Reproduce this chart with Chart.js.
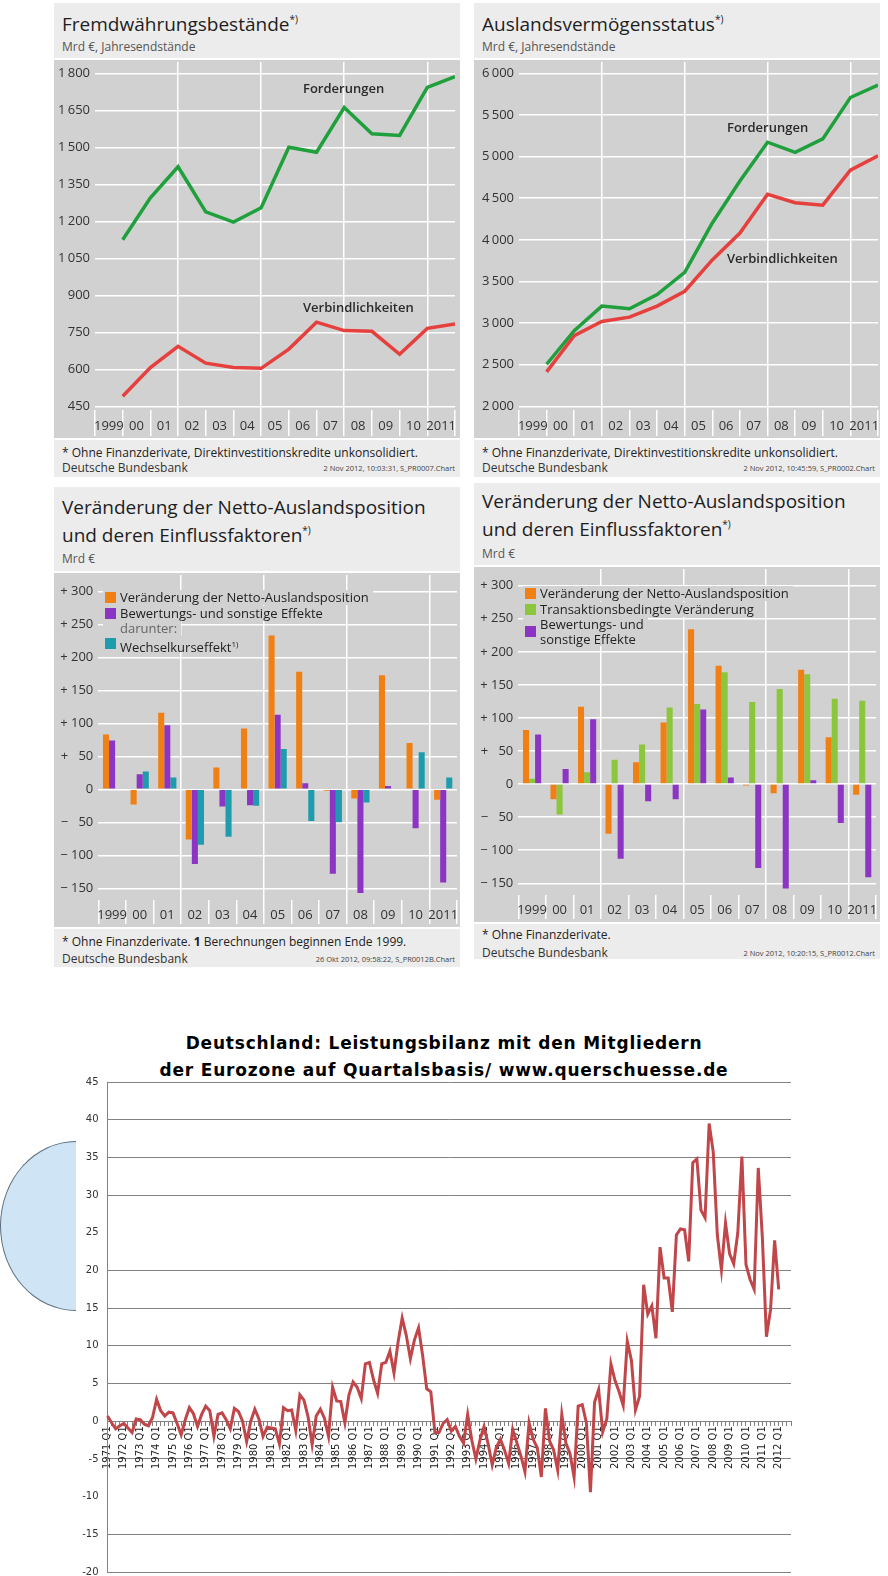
<!DOCTYPE html>
<html lang="de">
<head>
<meta charset="utf-8">
<title>Auslandsposition und Leistungsbilanz</title>
<script src="https://cdn.jsdelivr.net/npm/chart.js@4.4.0/dist/chart.umd.min.js"></script>
<style>
  body { margin: 0; width: 888px; height: 1576px; position: relative; background: #fff; overflow: hidden;
         font-family: 'Open Sans', 'Noto Sans', sans-serif; color: #222; }
  .abs { position: absolute; }
  .panel { position: absolute; background: #ececec; }
  .plot { position: absolute; background: #d1d1d1; border-top: 2px solid #fff; border-bottom: 2px solid #fff; box-sizing: border-box; }
  .title { position: absolute; font-size: 19px; line-height: 23px; color: #1e1e1e; white-space: nowrap; }
  .title sup { font-size: 10px; vertical-align: 8px; }
  .unit { position: absolute; font-size: 12px; line-height: 16px; color: #555; }
  .note { position: absolute; font-size: 12px; line-height: 16px; color: #222; white-space: nowrap; }
  .stamp { position: absolute; font-size: 7.5px; line-height: 10px; color: #444; white-space: nowrap; text-align: right; }
  .legend div { position: absolute; height: 15px; line-height: 15px; font-size: 13px; background: #d1d1d1; white-space: nowrap; padding-right: 4px; }
  .legend i { position: absolute; width: 11px; height: 11px; }
  .legend sup { font-size: 8px; vertical-align: 5px; }
  .curve { position: absolute; font-size: 13px; font-weight: 600; color: #2a2a2a; }
  canvas { position: absolute; }
  .headline { position: absolute; left: 0; width: 888px; text-align: center; font-family: 'DejaVu Sans', sans-serif;
              font-weight: bold; font-size: 17px; letter-spacing: 0.8px; line-height: 20px; color: #000; }
</style>
</head>
<body>

<!-- Panel 1 -->
<div class="panel" style="left:54px;top:3px;width:406px;height:474px"></div>
<div class="title" style="left:62px;top:8px">Fremdwährungsbestände<sup>*)</sup></div>
<div class="unit" style="left:62px;top:39px">Mrd €, Jahresendstände</div>
<div class="plot" style="left:54px;top:58px;width:406px;height:382px"></div>
<canvas id="fxChart" width="406" height="378" style="left:54px;top:60px"></canvas>
<div class="curve" style="left:303px;top:79px">Forderungen</div>
<div class="curve" style="left:303px;top:298px">Verbindlichkeiten</div>
<div class="note" style="left:62px;top:445px">* Ohne Finanzderivate, Direktinvestitionskredite unkonsolidiert.</div>
<div class="note" style="left:62px;top:460px;color:#333">Deutsche Bundesbank</div>
<div class="stamp" style="right:433px;top:463px">2 Nov 2012, 10:03:31, S_PR0007.Chart</div>

<!-- Panel 2 -->
<div class="panel" style="left:474px;top:3px;width:406px;height:474px"></div>
<div class="title" style="left:482px;top:8px">Auslandsvermögensstatus<sup>*)</sup></div>
<div class="unit" style="left:482px;top:39px">Mrd €, Jahresendstände</div>
<div class="plot" style="left:474px;top:58px;width:406px;height:382px"></div>
<canvas id="iipChart" width="406" height="378" style="left:474px;top:60px"></canvas>
<div class="curve" style="left:727px;top:118px">Forderungen</div>
<div class="curve" style="left:727px;top:249px">Verbindlichkeiten</div>
<div class="note" style="left:482px;top:445px">* Ohne Finanzderivate, Direktinvestitionskredite unkonsolidiert.</div>
<div class="note" style="left:482px;top:460px;color:#333">Deutsche Bundesbank</div>
<div class="stamp" style="right:13px;top:463px">2 Nov 2012, 10:45:59, S_PR0002.Chart</div>

<!-- Panel 3 -->
<div class="panel" style="left:54px;top:487px;width:406px;height:480px"></div>
<div class="title" style="left:62px;top:496px">Veränderung der Netto-Auslandsposition<br>und deren Einflussfaktoren<sup>*)</sup></div>
<div class="unit" style="left:62px;top:551px">Mrd €</div>
<div class="plot" style="left:54px;top:571px;width:406px;height:358px"></div>
<canvas id="netChartA" width="406" height="354" style="left:54px;top:573px"></canvas>
<div class="legend">
  <div style="left:103px;top:590px;padding-left:17px"><i style="left:2px;top:2px;background:#f07f14"></i>Veränderung der Netto-Auslandsposition</div>
  <div style="left:103px;top:606px;padding-left:17px"><i style="left:2px;top:2px;background:#8c35c4"></i>Bewertungs- und sonstige Effekte</div>
  <div style="left:103px;top:621px;padding-left:17px;color:#666">darunter:</div>
  <div style="left:103px;top:636px;padding-left:17px"><i style="left:2px;top:2px;background:#1c9cac"></i>Wechselkurseffekt<sup>1)</sup></div>
</div>
<div class="note" style="left:62px;top:934px">* Ohne Finanzderivate. <b>1</b> Berechnungen beginnen Ende 1999.</div>
<div class="note" style="left:62px;top:951px;color:#333">Deutsche Bundesbank</div>
<div class="stamp" style="right:433px;top:954px">26 Okt 2012, 09:58:22, S_PR0012B.Chart</div>

<!-- Panel 4 -->
<div class="panel" style="left:474px;top:483px;width:406px;height:476px"></div>
<div class="title" style="left:482px;top:490px">Veränderung der Netto-Auslandsposition<br>und deren Einflussfaktoren<sup>*)</sup></div>
<div class="unit" style="left:482px;top:546px">Mrd €</div>
<div class="plot" style="left:474px;top:565px;width:406px;height:359px"></div>
<canvas id="netChartB" width="406" height="355" style="left:474px;top:567px"></canvas>
<div class="legend">
  <div style="left:523px;top:586px;padding-left:17px"><i style="left:2px;top:2px;background:#f07f14"></i>Veränderung der Netto-Auslandsposition</div>
  <div style="left:523px;top:602px;padding-left:17px"><i style="left:2px;top:2px;background:#8cc63c"></i>Transaktionsbedingte Veränderung</div>
  <div style="left:523px;top:617px;height:29px;padding-left:17px"><i style="left:2px;top:9px;background:#8c35c4"></i>Bewertungs- und<br>sonstige Effekte</div>
</div>
<div class="note" style="left:482px;top:927px">* Ohne Finanzderivate.</div>
<div class="note" style="left:482px;top:945px;color:#333">Deutsche Bundesbank</div>
<div class="stamp" style="right:13px;top:948px">2 Nov 2012, 10:20:15, S_PR0012.Chart</div>

<!-- Quarterly chart -->
<div class="headline" style="top:1033px">Deutschland: Leistungsbilanz mit den Mitgliedern</div>
<div class="headline" style="top:1060px">der Eurozone auf Quartalsbasis/ www.querschuesse.de</div>
<div class="abs" style="left:0;top:1141px;width:76px;height:170px;background:#cfe4f4;border:1px solid #5d6e7c;border-right:none;border-radius:76px 0 0 76px / 85px 0 0 85px;box-sizing:border-box"></div>
<canvas id="balanceChart" width="888" height="501" style="left:0;top:1075px"></canvas>

<script>
const years = ['1999', '00', '01', '02', '03', '04', '05', '06', '07', '08', '09', '10', '2011'];

// Fremdwährungsbestände, Mrd €, Jahresendstände
const fxClaims = [1125, 1295, 1421, 1238, 1197, 1255, 1500, 1480, 1661, 1555, 1548, 1743, 1786];
const fxLiabilities = [491, 607, 693, 625, 607, 604, 682, 791, 757, 754, 661, 766, 784];
const fxTicks = [450, 600, 750, 900, 1050, 1200, 1350, 1500, 1650, 1800];

// Auslandsvermögensstatus, Mrd €
const iipClaims = [2505, 2909, 3204, 3172, 3342, 3608, 4202, 4707, 5172, 5051, 5212, 5709, 5859];
const iipLiabilities = [2413, 2849, 3018, 3071, 3204, 3382, 3758, 4081, 4546, 4445, 4416, 4836, 5010];
const iipTicks = [2000, 2500, 3000, 3500, 4000, 4500, 5000, 5500, 6000];

// Veränderung der Netto-Auslandsposition, Mrd €
const netChangeA = [83, -23, 116, -76, 33, 92, 233, 178, -2, -14, 173, 70, -16];
const valuationA = [74, 23, 97, -113, -26, -24, 113, 9, -128, -157, 5, -59, -141];
const exchangeRateEffect = [null, 27, 18, -84, -72, -25, 61, -48, -50, -20, -1, 56, 18];
const netChangeB = [82, -23, 117, -75, 33, 93, 234, 179, -2, -14, 173, 71, -16];
const transactions = [8, -46, 18, 37, 60, 116, 121, 169, 124, 144, 166, 129, 126];
const valuationB = [75, 23, 98, -113, -26, -23, 113, 10, -127, -158, 6, -59, -141];
const barTicks = [-150, -100, -50, 0, 50, 100, 150, 200, 250, 300];

// Leistungsbilanz mit der Eurozone, 1971 Q1 - 2012 Q1
const balance = [
  0.7, -0.2, -1.0, -0.6, -0.3, -0.9, -1.5, 0.3, 0.2, -0.4, -0.6, 0.5,
  2.9, 1.4, 0.7, 1.2, 1.1, -0.3, -1.8, 0.2, 1.8, 1.0, -0.7, 0.9,
  2.0, 1.4, -2.0, 0.9, 1.1, 0.2, -1.0, 1.7, 1.3, 0.0, -2.7, 0.0,
  1.6, 0.3, -2.0, -0.8, -0.9, -1.0, -3.0, 1.8, 1.4, 1.5, -1.2, 3.5,
  2.8, 0.6, -3.1, 0.7, 1.6, 0.4, -2.0, 4.5, 2.7, 2.6, -0.2, 3.5,
  5.2, 4.5, 3.0, 7.6, 7.8, 5.5, 3.7, 7.6, 7.8, 9.3, 6.4, 10.5,
  13.7, 11.4, 8.3, 10.8, 12.4, 8.7, 4.3, 3.9, -1.5, -1.5, -0.3, 0.2,
  -1.3, -0.7, -2.0, -2.9, 0.9, -2.5, -5.0, -2.5, -0.7, -3.0, -5.8, -3.5,
  -2.4, -3.8, -5.6, -1.1, -2.8, -4.6, -6.7, -0.2, -2.4, -3.5, -7.4, 1.7,
  -2.6, -3.8, -6.5, 0.9, -2.9, -4.3, -7.4, 2.0, 2.2, -0.2, -9.4, 2.5,
  4.2, -1.4, 0.3, 7.6, 5.4, 3.9, 2.1, 10.6, 8.1, 1.5, 3.3, 18.1,
  14.2, 15.3, 11.0, 23.1, 19.0, 19.0, 14.5, 24.7, 25.5, 25.4, 21.2, 34.3,
  34.8, 28.0, 27.0, 39.5, 35.7, 24.7, 20.1, 26.3, 22.2, 20.9, 25.0, 35.1,
  20.8, 18.8, 17.5, 33.6, 24.4, 11.2, 14.8, 24.0, 17.5
];
const firstYear = 1971;
const lastYear = 2012;

const quarterLabels = [];
for (let y = firstYear; y <= lastYear; y++) {
  for (let q = 1; q <= 4; q++) quarterLabels.push(`${y} Q${q}`);
}

const boundaryLines = [3, 6, 9, 12];
const gridWhite = '#ffffff';
const none = 'rgba(0,0,0,0)';
const tickFont = { family: "'Open Sans', sans-serif", size: 13 };

function thousands(v) {
  return v >= 1000 ? `${Math.floor(v / 1000)}\u2009${String(v % 1000).padStart(3, '0')}` : String(v);
}

function signed(v) {
  if (v === 0) return '0';
  const abs = Math.abs(v);
  return `${v > 0 ? '+' : '\u2212'}${abs < 100 ? '   ' : ' '}${abs}`;
}

// fixed axis sizes, without the extra room Chart.js keeps for end labels
function fixWidth(width) {
  return scale => { scale.width = width; scale.paddingTop = 0; scale.paddingBottom = 0; };
}
function fixHeight(height) {
  return scale => { scale.height = height; scale.paddingLeft = 0; scale.paddingRight = 0; };
}

function yearLineChart(id, claims, liabilities, ticks, range, yWidth, padRight) {
  return new Chart(document.getElementById(id), {
    type: 'line',
    data: {
      datasets: [
        { label: 'Forderungen', data: claims.map((v, i) => ({ x: i + 1, y: v })),
          borderColor: '#1fa03c', borderWidth: 3.5, pointRadius: 0, tension: 0 },
        { label: 'Verbindlichkeiten', data: liabilities.map((v, i) => ({ x: i + 1, y: v })),
          borderColor: '#e5403d', borderWidth: 3.5, pointRadius: 0, tension: 0 }
      ]
    },
    options: {
      responsive: false,
      animation: false,
      layout: { padding: { top: 2, right: padRight, left: 0, bottom: 0 } },
      plugins: { legend: { display: false }, tooltip: { enabled: false } },
      scales: {
        x: {
          type: 'linear', min: 0, max: years.length,
          afterBuildTicks: scale => { scale.ticks = Array.from({ length: years.length * 2 + 1 }, (_, i) => ({ value: i / 2 })); },
          afterFit: fixHeight(28),
          border: { display: false },
          grid: {
            color: c => (c.tick && boundaryLines.includes(c.tick.value)) ? gridWhite : none,
            tickColor: c => (c.tick && Number.isInteger(c.tick.value)) ? gridWhite : none,
            lineWidth: 1.5, tickWidth: 1.5, tickLength: 26
          },
          ticks: {
            autoSkip: false, maxRotation: 0, padding: -18, color: '#333', font: tickFont,
            callback: value => (value % 1 === 0.5 ? years[Math.floor(value)] : '')
          }
        },
        y: {
          min: range[0], max: range[1],
          afterBuildTicks: scale => { scale.ticks = ticks.map(v => ({ value: v })); },
          afterFit: fixWidth(yWidth),
          border: { display: false },
          grid: { color: gridWhite, lineWidth: 1.5, drawTicks: false },
          ticks: { padding: 5, color: '#333', font: tickFont, callback: v => thousands(v) }
        }
      }
    }
  });
}

function changeBarChart(id, series, range, yWidth, padRight) {
  return new Chart(document.getElementById(id), {
    type: 'bar',
    data: {
      labels: years,
      datasets: series.map(s => ({
        label: s.label, data: s.data, backgroundColor: s.color,
        categoryPercentage: 0.66, barPercentage: 1.0
      }))
    },
    options: {
      responsive: false,
      animation: false,
      layout: { padding: { top: 2, right: padRight, left: 0, bottom: 0 } },
      plugins: { legend: { display: false }, tooltip: { enabled: false } },
      scales: {
        x: {
          afterFit: fixHeight(27),
          border: { display: false },
          grid: {
            offset: true,
            color: c => boundaryLines.includes(c.index) ? gridWhite : none,
            tickColor: gridWhite,
            lineWidth: 1.5, tickWidth: 1.5, tickLength: 24
          },
          ticks: { autoSkip: false, maxRotation: 0, padding: -17, color: '#333', font: tickFont }
        },
        y: {
          min: range[0], max: range[1],
          afterBuildTicks: scale => { scale.ticks = barTicks.map(v => ({ value: v })); },
          afterFit: fixWidth(yWidth),
          border: { display: false },
          grid: { color: gridWhite, lineWidth: 1.5, drawTicks: false },
          ticks: { padding: 5, color: '#333', font: tickFont, callback: v => signed(v) }
        }
      }
    }
  });
}

yearLineChart('fxChart', fxClaims, fxLiabilities, fxTicks, [435, 1845.8], 41, 5);
yearLineChart('iipChart', iipClaims, iipLiabilities, iipTicks, [1955.6, 6135.7], 45, 2);

changeBarChart('netChartA', [
  { label: 'Veränderung der Netto-Auslandsposition', data: netChangeA, color: '#f07f14' },
  { label: 'Bewertungs- und sonstige Effekte', data: valuationA, color: '#8c35c4' },
  { label: 'Wechselkurseffekt', data: exchangeRateEffect, color: '#1c9cac' }
], [-167.7, 324.7], 44.3, 3);

changeBarChart('netChartB', [
  { label: 'Veränderung der Netto-Auslandsposition', data: netChangeB, color: '#f07f14' },
  { label: 'Transaktionsbedingte Veränderung', data: transactions, color: '#8cc63c' },
  { label: 'Bewertungs- und sonstige Effekte', data: valuationB, color: '#8c35c4' }
], [-167.7, 325.3], 44.3, 4);

const axisGrey = '#828282';

new Chart(document.getElementById('balanceChart'), {
  type: 'line',
  data: {
    labels: quarterLabels,
    datasets: [{
      label: 'Leistungsbilanz Eurozone',
      data: balance,
      borderColor: '#c0464a',
      borderWidth: 3,
      pointRadius: 0,
      tension: 0
    }]
  },
  options: {
    responsive: false,
    animation: false,
    layout: { padding: { top: 7, right: 97, bottom: 4, left: 0 } },
    plugins: { legend: { display: false }, tooltip: { enabled: false } },
    scales: {
      x: {
        position: { y: 0 },
        border: { display: true, color: axisGrey, width: 1 },
        grid: { drawOnChartArea: false, tickColor: axisGrey, tickLength: 4 },
        ticks: {
          autoSkip: false, minRotation: 90, maxRotation: 90, padding: 1,
          color: '#222', font: { family: "'DejaVu Sans', sans-serif", size: 10 },
          callback: (v, i) => (i % 4 === 0 ? quarterLabels[i] : '')
        }
      },
      y: {
        min: -20, max: 45,
        afterFit: fixWidth(107.5),
        border: { display: true, color: axisGrey, width: 1 },
        grid: {
          color: c => (c.tick && (c.tick.value === 25 || c.tick.value === -10)) ? none : axisGrey,
          drawTicks: false
        },
        ticks: { stepSize: 5, padding: 9, color: '#333', font: { family: "'DejaVu Sans', sans-serif", size: 10 } }
      }
    }
  }
});
</script>
</body>
</html>
